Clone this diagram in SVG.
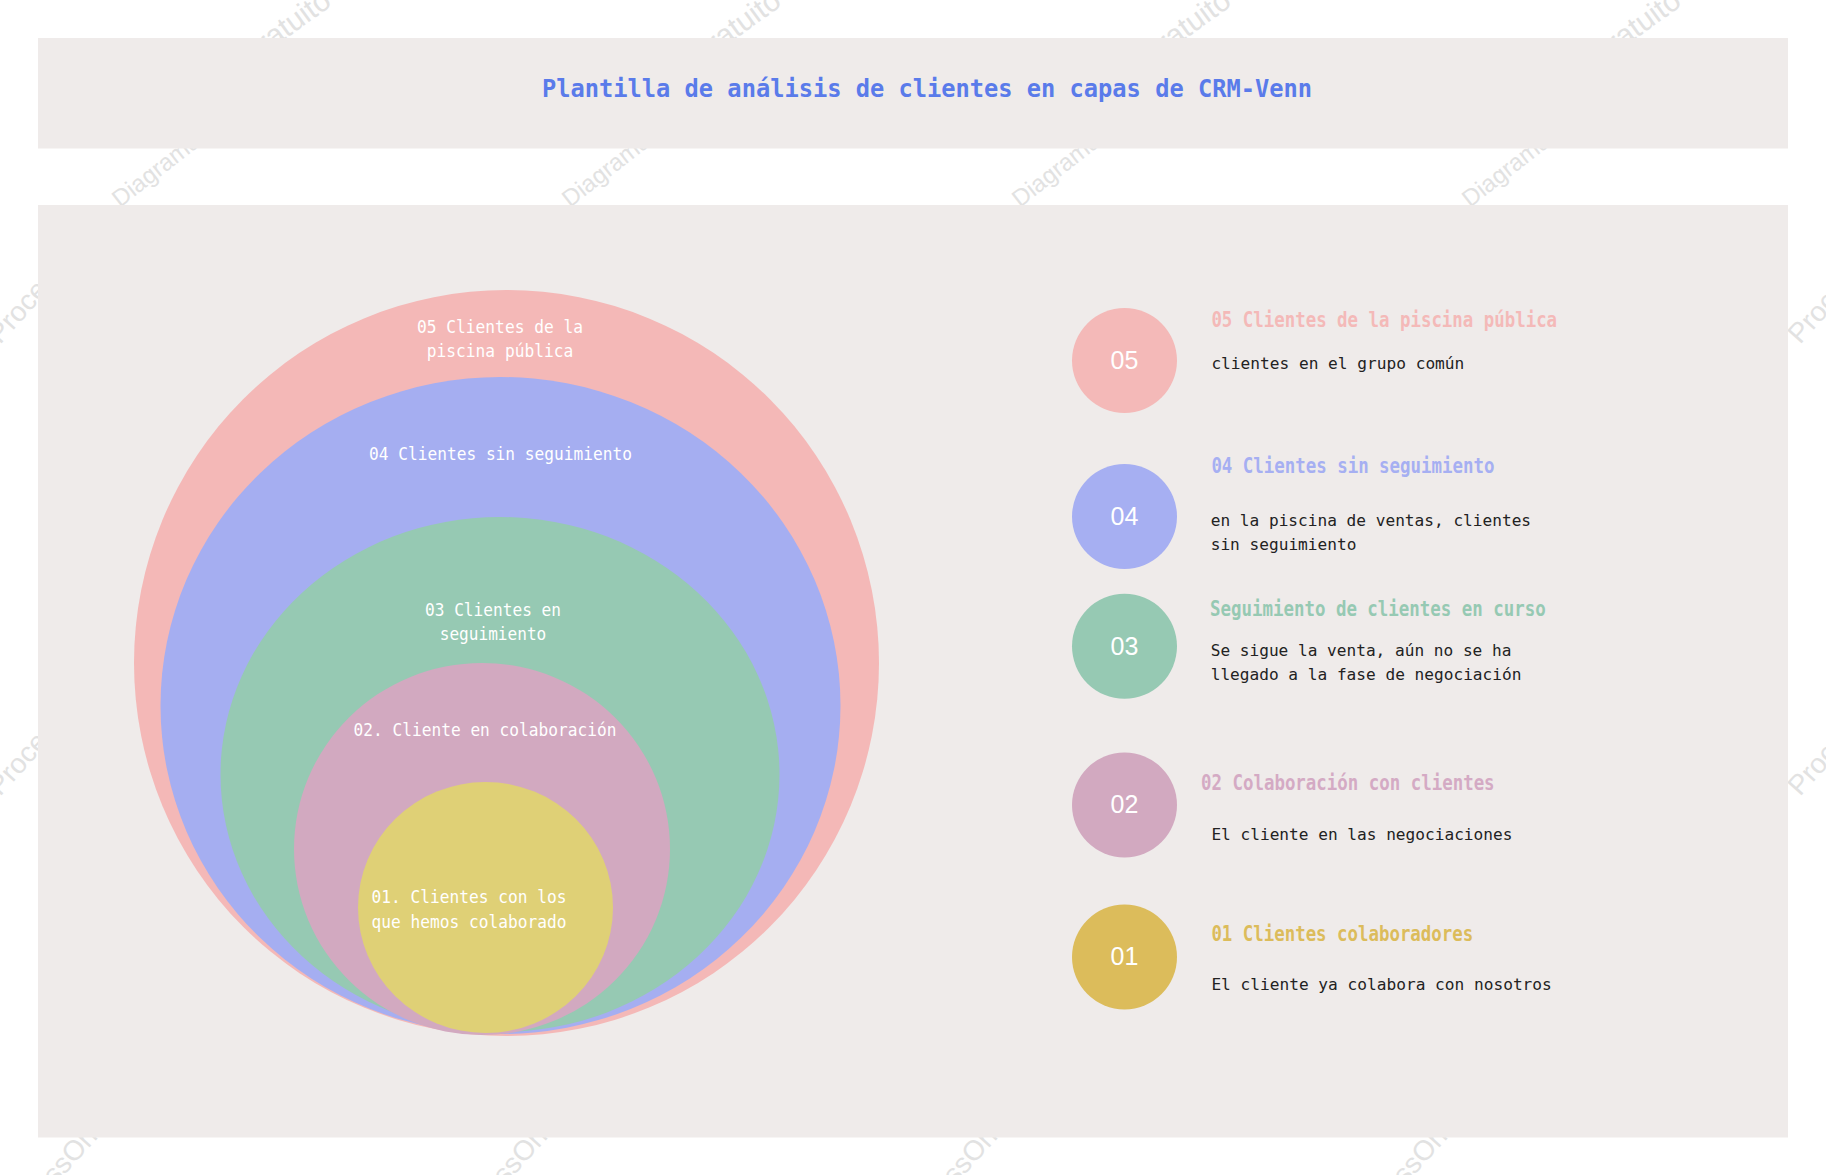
<svg xmlns="http://www.w3.org/2000/svg" xmlns:xlink="http://www.w3.org/1999/xlink" width="1826" height="1175" viewBox="0 0 1826 1175">
<style>
  .wm{font-family:"Liberation Sans",Arial,sans-serif;fill:#e2e2e2}
  .panel{fill:#efebea}
  .title{font-family:"DejaVu Sans Mono","Liberation Mono",monospace;font-size:25px;font-weight:bold;fill:#5a7bea}
  .inlbl{font-family:"DejaVu Sans Mono","Liberation Mono",monospace;font-size:18px;fill:#ffffff}
  .num{font-family:"Liberation Sans",Arial,sans-serif;font-size:25px;fill:#ffffff;text-anchor:middle}
  .head{font-family:"DejaVu Sans Mono","Liberation Mono",monospace;font-size:20.5px;font-weight:bold}
  .desc{font-family:"DejaVu Sans Mono","Liberation Mono",monospace;font-size:16.5px;fill:#222222}
</style>
<defs>
  <g id="wmtile">
    <text class="wm" font-size="28" transform="translate(0 0) rotate(-48)">ProcessOn.io</text>
    <text class="wm" font-size="24" transform="translate(120 -137) rotate(-38)">Diagrama</text>
    <text class="wm" font-size="30" transform="translate(252 -281.5) rotate(-36)">gratuito</text>
  </g>
</defs>
<rect x="0" y="0" width="1826" height="1175" fill="#ffffff"/>
<g id="watermark">
  <use xlink:href="#wmtile" x="0" y="345"/>
  <use xlink:href="#wmtile" x="450" y="345"/>
  <use xlink:href="#wmtile" x="900" y="345"/>
  <use xlink:href="#wmtile" x="1350" y="345"/>
  <use xlink:href="#wmtile" x="1800" y="345"/>
  <use xlink:href="#wmtile" x="0" y="797"/>
  <use xlink:href="#wmtile" x="450" y="797"/>
  <use xlink:href="#wmtile" x="900" y="797"/>
  <use xlink:href="#wmtile" x="1350" y="797"/>
  <use xlink:href="#wmtile" x="1800" y="797"/>
  <use xlink:href="#wmtile" x="6" y="1240"/>
  <use xlink:href="#wmtile" x="456" y="1240"/>
  <use xlink:href="#wmtile" x="906" y="1240"/>
  <use xlink:href="#wmtile" x="1356" y="1240"/>
</g>
<g id="title-bar">
  <rect class="panel" x="38" y="38" width="1750" height="110.5"/>
  <text class="title" x="542" y="96.5" textLength="770" lengthAdjust="spacingAndGlyphs">Plantilla de análisis de clientes en capas de CRM-Venn</text>
</g>
<rect id="main-panel" class="panel" x="38" y="205" width="1750" height="932.5"/>
<g id="layer-05">
  <ellipse cx="506.5" cy="663" rx="372.5" ry="373" fill="#f4b8b7"/>
  <text class="inlbl" x="500" y="333.3" text-anchor="middle" textLength="166" lengthAdjust="spacingAndGlyphs">05 Clientes de la</text>
  <text class="inlbl" x="500" y="357.3" text-anchor="middle" textLength="146.5" lengthAdjust="spacingAndGlyphs">piscina pública</text>
</g>
<g id="layer-04">
  <ellipse cx="500.5" cy="705.5" rx="340" ry="328.5" fill="#a5aef1"/>
  <text class="inlbl" x="500.5" y="460" text-anchor="middle" textLength="263" lengthAdjust="spacingAndGlyphs">04 Clientes sin seguimiento</text>
</g>
<g id="layer-03">
  <ellipse cx="500" cy="774.5" rx="279.5" ry="257.5" fill="#96c9b3"/>
  <text class="inlbl" x="493" y="616" text-anchor="middle" textLength="136" lengthAdjust="spacingAndGlyphs">03 Clientes en</text>
  <text class="inlbl" x="493" y="639.5" text-anchor="middle" textLength="106.6" lengthAdjust="spacingAndGlyphs">seguimiento</text>
</g>
<g id="layer-02">
  <ellipse cx="482" cy="849" rx="188" ry="186" fill="#d2a9c0"/>
  <text class="inlbl" x="485" y="736" text-anchor="middle" textLength="263" lengthAdjust="spacingAndGlyphs">02. Cliente en colaboración</text>
</g>
<g id="layer-01">
  <ellipse cx="485.5" cy="907.5" rx="127.5" ry="125.5" fill="#dfd076"/>
  <text class="inlbl" x="371.4" y="903.3" textLength="195" lengthAdjust="spacingAndGlyphs">01. Clientes con los</text>
  <text class="inlbl" x="371.4" y="927.7" textLength="195" lengthAdjust="spacingAndGlyphs">que hemos colaborado</text>
</g>
<g id="legend-05">
  <circle cx="1124.5" cy="360.5" r="52.5" fill="#f4b9b8"/>
  <text class="num" x="1124.5" y="368.7">05</text>
  <text class="head" x="1211.4" y="326.7" fill="#f4b9b8" textLength="345.7" lengthAdjust="spacingAndGlyphs">05 Clientes de la piscina pública</text>
  <text class="desc" x="1211.4" y="369" textLength="252.9" lengthAdjust="spacingAndGlyphs">clientes en el grupo común</text>
</g>
<g id="legend-04">
  <circle cx="1124.5" cy="516.5" r="52.5" fill="#a6aff2"/>
  <text class="num" x="1124.5" y="524.7">04</text>
  <text class="head" x="1211.4" y="473.3" fill="#a6aff2" textLength="283" lengthAdjust="spacingAndGlyphs">04 Clientes sin seguimiento</text>
  <text class="desc" x="1210.7" y="525.7" textLength="320.4" lengthAdjust="spacingAndGlyphs">en la piscina de ventas, clientes</text>
  <text class="desc" x="1210.7" y="549.7" textLength="145.7" lengthAdjust="spacingAndGlyphs">sin seguimiento</text>
</g>
<g id="legend-03">
  <circle cx="1124.5" cy="646.3" r="52.5" fill="#96c9b3"/>
  <text class="num" x="1124.5" y="654.5">03</text>
  <text class="head" x="1210" y="616" fill="#96c9b3" textLength="335.7" lengthAdjust="spacingAndGlyphs">Seguimiento de clientes en curso</text>
  <text class="desc" x="1210.7" y="656" textLength="300.7" lengthAdjust="spacingAndGlyphs">Se sigue la venta, aún no se ha</text>
  <text class="desc" x="1210.7" y="680" textLength="310.7" lengthAdjust="spacingAndGlyphs">llegado a la fase de negociación</text>
</g>
<g id="legend-02">
  <circle cx="1124.5" cy="805" r="52.5" fill="#d2a9c0"/>
  <text class="num" x="1124.5" y="813.2">02</text>
  <text class="head" x="1201" y="790" fill="#d4aac4" textLength="293.6" lengthAdjust="spacingAndGlyphs">02 Colaboración con clientes</text>
  <text class="desc" x="1211.4" y="840" textLength="301" lengthAdjust="spacingAndGlyphs">El cliente en las negociaciones</text>
</g>
<g id="legend-01">
  <circle cx="1124.5" cy="957" r="52.5" fill="#dcbc5b"/>
  <text class="num" x="1124.5" y="965.2">01</text>
  <text class="head" x="1211.4" y="940.7" fill="#dcbc5b" textLength="261.8" lengthAdjust="spacingAndGlyphs">01 Clientes colaboradores</text>
  <text class="desc" x="1211.4" y="990" textLength="340.4" lengthAdjust="spacingAndGlyphs">El cliente ya colabora con nosotros</text>
</g>
<g id="connectors"></g>
</svg>
